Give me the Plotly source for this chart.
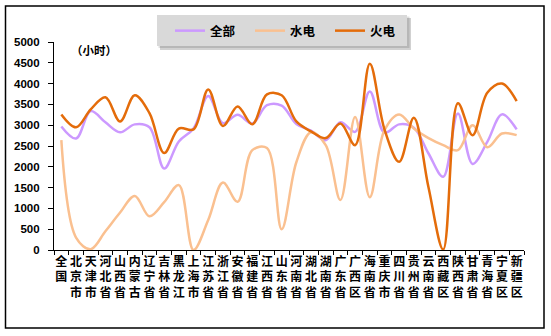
import plotly.graph_objects as go

# Utilization hours by region
provinces = ["全国", "北京市", "天津市", "河北省", "山西省", "内蒙古", "辽宁省", "吉林省",
             "黑龙江", "上海市", "江苏省", "浙江省", "安徽省", "福建省", "江西省", "山东省",
             "河南省", "湖北省", "湖南省", "广东省", "广西区", "海南省", "重庆市", "四川省",
             "贵州省", "云南省", "西藏区", "陕西省", "甘肃省", "青海省", "宁夏区", "新疆区"]

overall_hours = [2970, 2680, 3340, 3070, 2830, 3020, 2950, 1960, 2610, 2920, 3700, 3050,
                 3250, 3040, 3480, 3470, 3030, 2870, 2640, 3070, 2840, 3810, 2820, 3020,
                 2940, 2320, 1760, 3280, 2070, 2600, 3260, 2900]

hydro_hours = [2640, 300, 20, 450, 900, 1300, 810, 1150, 1560, 0, 720, 1620,
               1160, 2400, 2450, 500, 2110, 2830, 2520, 1200, 3200, 1270, 2880, 3260,
               2920, 2690, 2520, 2400, 3000, 2470, 2800, 2760]

thermal_hours = [3260, 2950, 3380, 3670, 3090, 3720, 3290, 2330, 2920, 2900, 3860, 2980,
                 3450, 3020, 3740, 3720, 3090, 2850, 2690, 3040, 2520, 4480, 2900, 2120,
                 3180, 1500, 10, 3530, 2760, 3780, 4000, 3580]

y_ticks = list(range(0, 5001, 500))

series = [
    ("全部", overall_hours, "#cc99ff"),
    ("水电", hydro_hours, "#fac090"),
    ("火电", thermal_hours, "#e46c0a"),
]

# Vertical (stacked-character) category labels
stacked = ["<br>".join(name) for name in provinces]

W, H = 551, 336
L, R, T, B = 54, 27, 42, 86
PW, PH = W - L - R, H - T - B


def fx(x):
    return (x - L) / PW


def fy(y):
    return (H - B - y) / PH


cjk = "Noto Sans CJK SC"
latin = "Liberation Sans"

fig = go.Figure()
for name, vals, color in series:
    fig.add_trace(go.Scatter(
        x=stacked, y=vals, name=name, mode="lines",
        line=dict(color=color, width=2.5, shape="spline", smoothing=1.0),
    ))

shapes = [
    # legend shadow + box
    dict(type="rect", xref="paper", yref="paper", x0=fx(160), x1=fx(411), y0=fy(50), y1=fy(18),
         fillcolor="rgba(0,0,0,0.18)", line=dict(width=0), layer="above"),
    dict(type="rect", xref="paper", yref="paper", x0=fx(158.5), x1=fx(409.5), y0=fy(48), y1=fy(16.5),
         fillcolor="rgba(0,0,0,0.12)", line=dict(width=0), layer="above"),
    dict(type="rect", xref="paper", yref="paper", x0=fx(157), x1=fx(407), y0=fy(46), y1=fy(15),
         fillcolor="#d9d9d9", line=dict(width=0), layer="above"),
    # outer frame
    dict(type="rect", xref="paper", yref="paper", x0=fx(5.5), x1=fx(544), y0=fy(328), y1=fy(6),
         fillcolor="rgba(0,0,0,0)", line=dict(color="black", width=1.5), layer="above"),
]

fig.update_layout(
    width=W, height=H,
    margin=dict(l=L, r=R, t=T, b=B),
    paper_bgcolor="white", plot_bgcolor="white",
    shapes=shapes,
    showlegend=True,
    legend=dict(
        orientation="h", x=fx(170), y=fy(16), xanchor="left", yanchor="top",
        bgcolor="rgba(0,0,0,0)", borderwidth=0,
        font=dict(family=cjk, size=12.5, color="black", weight="bold"),
        entrywidth=35, entrywidthmode="pixels", itemwidth=30,
    ),
    annotations=[
        dict(text="（小时）", xref="paper", yref="paper", x=fx(94), y=fy(50),
             xanchor="center", yanchor="middle", showarrow=False,
             font=dict(family=cjk, size=11.5, color="black", weight="bold")),
    ],
    xaxis=dict(
        type="category", range=[-0.5, len(provinces) - 0.5],
        showline=True, linecolor="black", linewidth=1.2,
        ticks="outside", tickson="boundaries", ticklen=4, tickcolor="black", tickwidth=1,
        showgrid=False, zeroline=False,
        tickfont=dict(family=cjk, size=12, color="black", weight="bold"),
        tickangle=0,
    ),
    yaxis=dict(
        range=[0, 5000], tickvals=y_ticks, ticktext=[str(v) for v in y_ticks],
        showline=True, linecolor="black", linewidth=1.2,
        ticks="outside", ticklen=5, tickcolor="black", tickwidth=1,
        showgrid=False, zeroline=False,
        tickfont=dict(family=latin, size=11.5, color="black", weight="bold"),
        ticklabelstandoff=6,
    ),
)

fig.write_html("out.html")
